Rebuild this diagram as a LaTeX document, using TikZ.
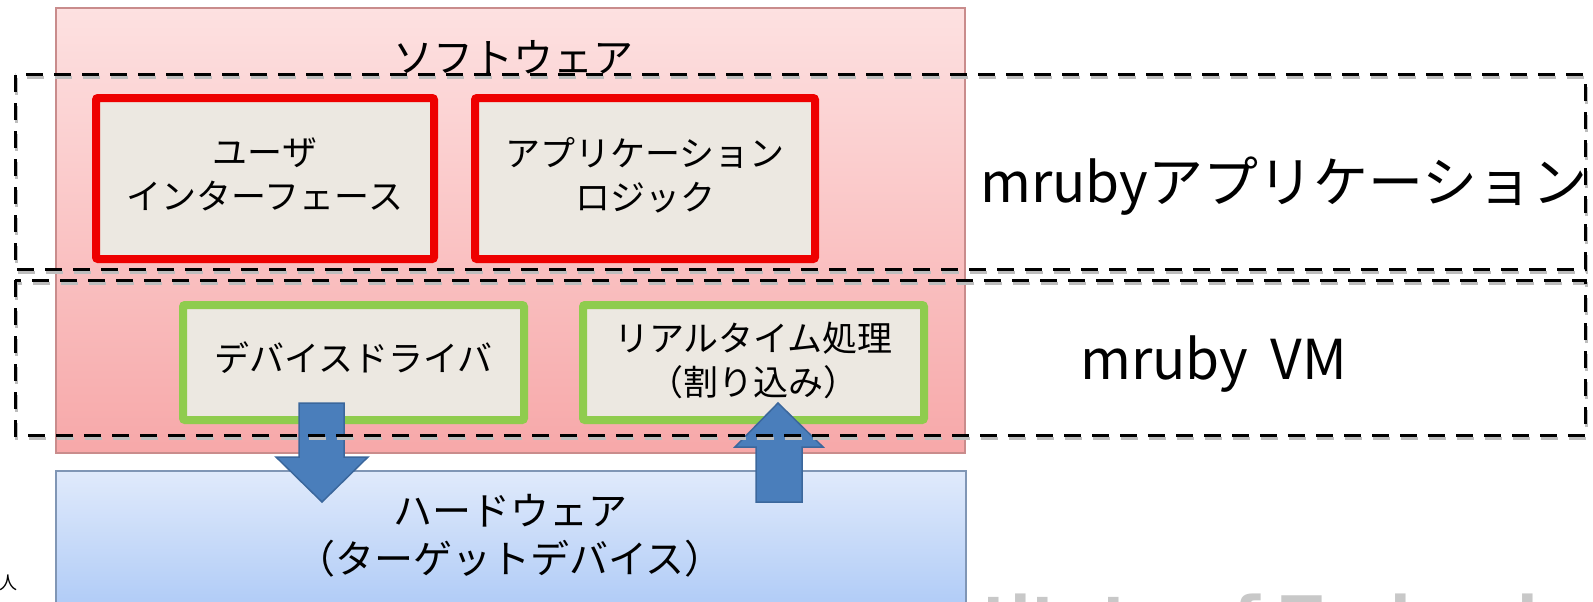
\documentclass[tikz,border=0pt]{standalone}
\usepackage{fontspec}
\setmainfont{Noto Sans CJK JP}
\newfontfamily\wmfont{DejaVu Sans}
\usetikzlibrary{calc}
\definecolor{swtop}{HTML}{FDE1E1}
\definecolor{swbot}{HTML}{F7A8A9}
\definecolor{swline}{HTML}{C98C8C}
\definecolor{hwtop}{HTML}{E0EAFB}
\definecolor{hwbot}{HTML}{A4C4F6}
\definecolor{hwline}{HTML}{8096B5}
\definecolor{boxfill}{HTML}{ECE8E1}
\definecolor{redline}{HTML}{EE0000}
\definecolor{greenline}{HTML}{8FCC4E}
\definecolor{arrowfill}{HTML}{4A7EBB}
\definecolor{arrowline}{HTML}{3B679C}
\definecolor{wmgray}{HTML}{C8C8C8}
\definecolor{dashshade}{HTML}{BDBDBD}
\newcommand{\lift}[1]{\rule[-#1]{0pt}{0pt}}
\begin{document}
\begin{tikzpicture}[x=1pt,y=-1pt,
  redbox/.style={draw=redline, line width=8pt, fill=boxfill, rounded corners=2pt,
    minimum width=338pt, minimum height=161pt, inner sep=0pt, align=center,
    font=\fontsize{35}{44}\selectfont},
  greenbox/.style={draw=greenline, line width=8pt, fill=boxfill, rounded corners=2pt,
    minimum width=341pt, minimum height=115pt, inner sep=0pt, align=center,
    font=\fontsize{35}{44}\selectfont},
  bigtext/.style={font=\fontsize{40}{48}\selectfont, inner sep=0pt, align=center},
  sidetext/.style={font=\fontsize{55}{66}\selectfont, inner sep=0pt},
  blockarrow/.style={fill=arrowfill, draw=arrowline, line width=1.5pt, line join=miter},
  dashbox/.style={draw=black, line width=3pt, dash pattern=on 17pt off 11pt},
  dashshadow/.style={draw=dashshade, line width=3pt, dash pattern=on 17pt off 11pt}]
\useasboundingbox (0,0) rectangle (1593,602);
\fill[white] (0,0) rectangle (1593,602);
\begin{scope}
\clip (0,0) rectangle (1593,602);
% watermark (mostly cut off at the bottom)
\node (wm) [anchor=base west, inner sep=0pt, text=wmgray, font=\wmfont\bfseries\fontsize{60}{72}\selectfont] at (982,639) {titute of Technolo};
% software layer
\path[top color=swtop, bottom color=swbot, draw=swline, line width=1.5pt] (56,8) rectangle (965,453);
\node (swtitle) [bigtext] at (513,57) {ソフトウェア};
% hardware layer
\path[top color=hwtop, bottom color=hwbot, draw=hwline, line width=1.5pt] (56,471) rectangle (966,640);
\node (hwtext) [font=\fontsize{39}{48}\selectfont, inner sep=0pt, align=center] at (510,536) {ハードウェア\\（ターゲットデバイス）};
% application boxes
\node (ui) [redbox] at (265,178.5) {ユーザ\\インターフェース\lift{10pt}};
\node (logic) [redbox, minimum width=340pt] at (645,178.5) {アプリケーション\\ロジック\lift{10pt}};
% VM boxes
\node (driver) [greenbox] at (353.5,362.5) {デバイスドライバ\lift{12pt}};
\node (rt) [greenbox] at (753.5,362.5) {リアルタイム処理\\（割り込み）\lift{8pt}};
% block arrows
\coordinate (dnstart) at (322,403);
\coordinate (uptip) at (778,403);
\draw[blockarrow] (dnstart) +(-23,0) -- +(22,0) -- +(22,54) -- +(46,54) -- +(0,99) -- +(-46,54) -- +(-23,54) -- cycle;
\draw[blockarrow] (uptip) -- +(45,44) -- +(24,44) -- +(24,99) -- +(-22,99) -- +(-22,44) -- +(-43,44) -- cycle;
% dashed groupings
\draw[dashshadow] (16,78) rectangle (1586,272);
\draw[dashshadow] (16,283) rectangle (1586,438);
\draw[dashbox] (15,75) rectangle (1585,269);
\draw[dashbox] (15,280) rectangle (1585,435);
\node (apptext) [sidetext, anchor=base west] at (980,202) {mrubyアプリケーション};
\node (vmtext) [sidetext, anchor=base west] at (1080,379) {mruby\hspace{10pt} VM};
% cut-off fragment at lower left
\node (frag) [font=\fontsize{18}{20}\selectfont, inner sep=0pt] at (8,583) {人};
\end{scope}
\end{tikzpicture}
\end{document}
